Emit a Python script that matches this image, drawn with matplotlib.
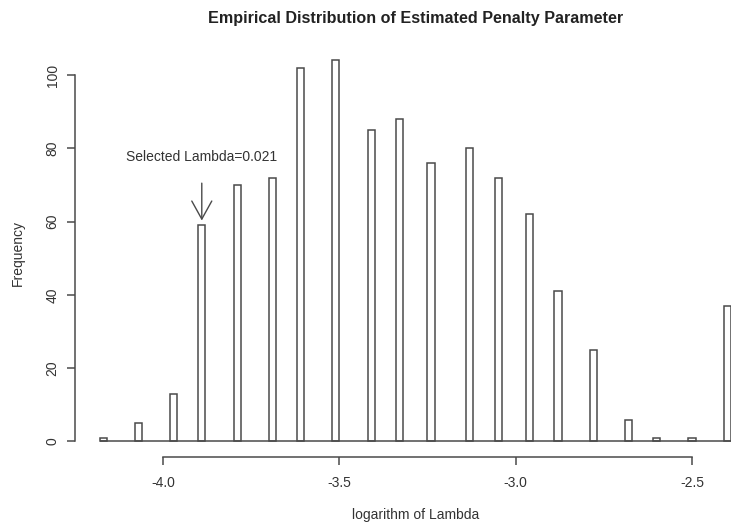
import matplotlib
matplotlib.use("Agg")
import matplotlib.pyplot as plt

# histogram of log(lambda): bin centres and counts
log_lambda = [-4.17, -4.07, -3.97, -3.89, -3.79, -3.69, -3.61, -3.51, -3.41, -3.33,
              -3.24, -3.13, -3.05, -2.96, -2.88, -2.78, -2.68, -2.60, -2.50, -2.40]
counts = [1, 5, 13, 59, 70, 72, 102, 104, 85, 88,
          76, 80, 72, 62, 41, 25, 6, 1, 1, 37]
bin_width = 0.02

x_ticks = [-4.0, -3.5, -3.0, -2.5]
y_ticks = [0, 20, 40, 60, 80, 100]

selected_x = -3.89
selected_label = "Selected Lambda=0.021"

plt.rcParams['font.family'] = ['Liberation Sans', 'DejaVu Sans']
line_col = '#4a4a4a'
text_col = '#333333'

W, H = 731, 529
fig = plt.figure(figsize=(W / 100, H / 100), dpi=100)
# plot region in pixels: left 75, right past the image edge, top 45, bottom 457
ax = fig.add_axes([75 / W, (H - 457) / H, (W - 75) / W, (457 - 45) / H])
ax.set_xlim(-4.2495, -2.3894)
ax.set_ylim(-4.23, 108.2)

ax.bar(log_lambda, counts, width=bin_width, fill=False,
       edgecolor=line_col, linewidth=1.1, align='center')
ax.hlines(0, log_lambda[0] - bin_width / 2, log_lambda[-1] + bin_width / 2,
          color=line_col, linewidth=1.1)

ax.annotate('', xy=(selected_x, 60.3), xytext=(selected_x, 70.5),
            arrowprops=dict(arrowstyle='->,head_length=1.3,head_width=0.72',
                            color=line_col, lw=1.0, shrinkA=0, shrinkB=0))
ax.text(selected_x, 77.6, selected_label, ha='center', va='center',
        fontsize=10, color=text_col)

for s in ['top', 'right']:
    ax.spines[s].set_visible(False)
ax.spines['left'].set_bounds(0, 100)
ax.spines['bottom'].set_bounds(-4.0, -2.5)
for s in ['left', 'bottom']:
    ax.spines[s].set_color(line_col)
    ax.spines[s].set_linewidth(1.1)

ax.set_xticks(x_ticks)
ax.set_xticklabels(['%.1f' % v for v in x_ticks])
ax.set_yticks(y_ticks)
ax.set_yticklabels([str(v) for v in y_ticks], rotation=90, va='center')
ax.tick_params(axis='both', direction='out', length=6, width=1.1,
               color=line_col, labelcolor=text_col, labelsize=10)
ax.tick_params(axis='x', pad=8)
ax.tick_params(axis='y', pad=5)

fig.text(415.5 / W, 1 - 18 / H, "Empirical Distribution of Estimated Penalty Parameter",
         ha='center', va='center', fontsize=11.6, fontweight='bold', color='#222222')
fig.text(415.5 / W, 1 - 515 / H, "logarithm of Lambda", ha='center', va='center',
         fontsize=10, color=text_col)
fig.text(18 / W, 1 - 253 / H, "Frequency", ha='center', va='center',
         rotation=90, fontsize=10, color=text_col)

fig.savefig("out.png", dpi=100)
